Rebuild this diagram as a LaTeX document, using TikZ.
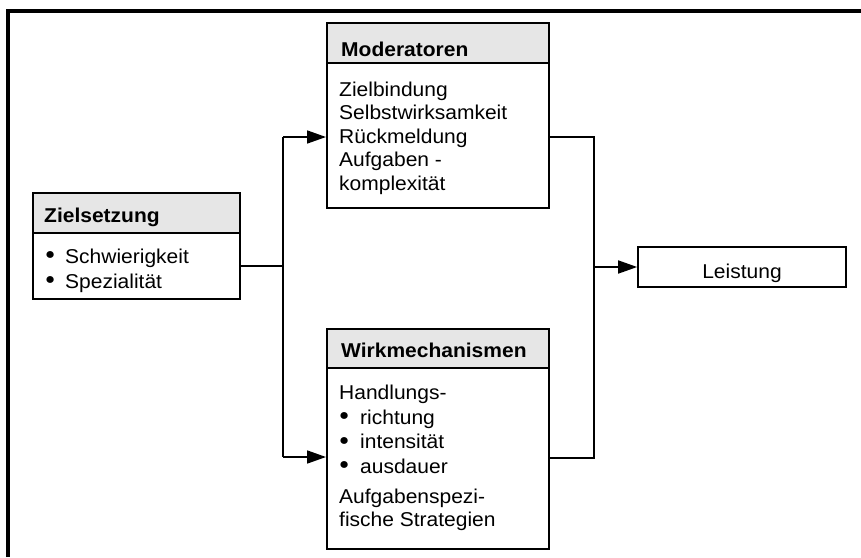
\documentclass[tikz,border=0pt]{standalone}
\usepackage{fontspec}
\setmainfont{Liberation Sans}[FakeStretch=1.05]
\usetikzlibrary{arrows.meta}
\definecolor{headgray}{HTML}{E6E6E6}
\newcommand{\blt}[1]{\makebox[#1][l]{\raisebox{3.5pt}{\fontsize{16}{16}\selectfont ●}}}
\begin{document}
\begin{tikzpicture}[x=1pt,y=-1pt,
  box/.style={draw=black,line width=1.7pt,inner sep=0pt,anchor=north west},
  headbox/.style={box,fill=headgray},
  txt/.style={anchor=base west,inner sep=0pt,font=\fontsize{20}{23}\selectfont},
  htxt/.style={anchor=base west,inner sep=0pt,font=\fontsize{20}{23}\selectfont\bfseries},
  conn/.style={line width=1.7pt},
  arr/.style={conn,-{Triangle[length=19pt,width=13pt]}}]
\useasboundingbox (0,0) rectangle (861,557);
\fill[white] (0,0) rectangle (861,557);
% frame
\draw[line width=4pt] (8,557) -- (8,11) -- (861,11);

% Zielsetzung
\node[headbox,minimum width=207pt,minimum height=40pt] (zh) at (32,192) {};
\node[box,minimum width=207pt,minimum height=66pt] (zb) at (32,232) {};
\node[htxt] (zht) at (44,222.5) {Zielsetzung};
\node[txt] (z1) at (45,263) {\blt{20pt}Schwierigkeit};
\node[txt] (z2) at (45,288) {\blt{20pt}Spezialität};

% Moderatoren
\node[headbox,minimum width=222pt,minimum height=40pt] (mh) at (326,22) {};
\node[box,minimum width=222pt,minimum height=145pt] (mb) at (326,62) {};
\node[htxt] (mht) at (341,56) {Moderatoren};
\node[txt] (m1) at (339,96) {Zielbindung};
\node[txt] (m2) at (339,119.5) {Selbstwirksamkeit};
\node[txt] (m3) at (339,143) {Rückmeldung};
\node[txt] (m4) at (339,166.5) {Aufgaben -};
\node[txt] (m5) at (339,190) {komplexität};

% Wirkmechanismen
\node[headbox,minimum width=222pt,minimum height=39pt] (wh) at (326,328) {};
\node[box,minimum width=222pt,minimum height=181pt] (wb) at (326,367) {};
\node[htxt] (wht) at (341,357) {Wirkmechanismen};
\node[txt] (w1) at (339,399) {Handlungs-};
\node[txt] (w2) at (339,424) {\blt{21pt}richtung};
\node[txt] (w3) at (339,448.5) {\blt{21pt}intensität};
\node[txt] (w4) at (339,473) {\blt{21pt}ausdauer};
\node[txt] (w5) at (339,503) {Aufgabenspezi-};
\node[txt] (w6) at (339,526) {fische Strategien};

% Leistung
\node[box,anchor=center,minimum width=208pt,minimum height=40pt] (leist) at (742,267) {};
\node[anchor=base,inner sep=0pt,font=\fontsize{20}{23}\selectfont] (leisttxt) at (742,278) {Leistung};

% connectors
\coordinate (lt) at (283,137);
\coordinate (lb) at (283,457);
\coordinate (rt) at (594,137);
\coordinate (rb) at (594,458);
\draw[conn] (zb.east) -- (zb.east -| lt);
\draw[conn] (lt) -- (lb);
\draw[arr] (lt) -- (mb.west |- lt);
\draw[arr] (lb) -- (wb.west |- lb);
\draw[conn] (mb.east |- rt) -- (rt) -- (rb) -- (wb.east |- rb);
\draw[arr] (rt |- leist.west) -- (leist.west);
\end{tikzpicture}
\end{document}
